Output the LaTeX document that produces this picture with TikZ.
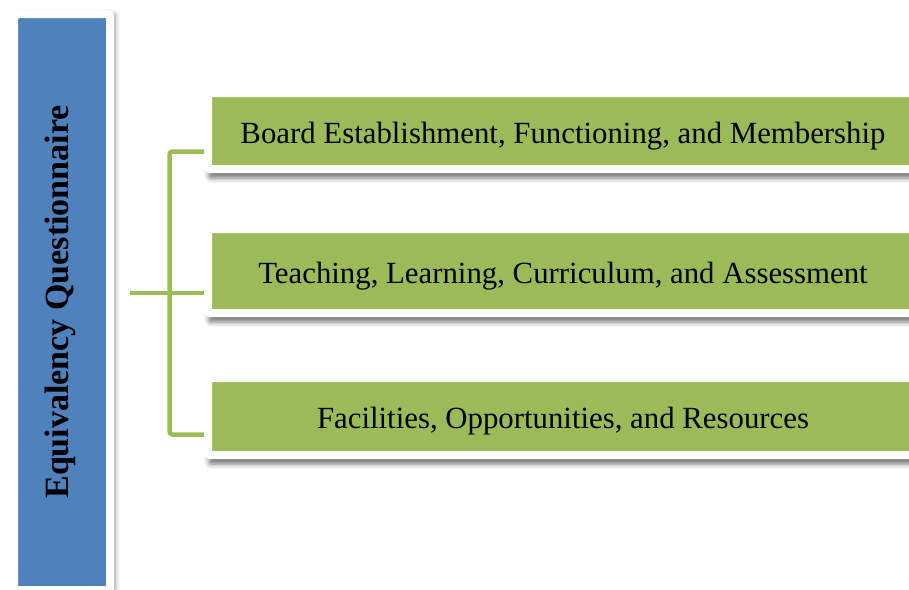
\documentclass[tikz,border=0pt]{standalone}
\usepackage{fontspec}
\setmainfont{Liberation Serif}
\usetikzlibrary{positioning,shadows.blur}

\definecolor{qblue}{HTML}{4F81BD}
\definecolor{qgreen}{HTML}{9BBB59}

\begin{document}
\begin{tikzpicture}[x=0.5pt,y=-0.5pt,
        topic/.style={fill=qgreen,draw=white,line width=4pt,rounded corners=1pt,
            minimum width=355pt,text height=12pt,text depth=0pt,
            font=\fontsize{15.4pt}{18pt}\selectfont,
            blur shadow={shadow xshift=0.5pt,shadow yshift=-4.5pt,
                shadow blur radius=2.5pt,shadow opacity=55}},
        title/.style={fill=qblue,draw=white,line width=4pt,rounded corners=1pt,
            rotate=90,minimum width=288pt,minimum height=48pt,
            text height=6pt,text depth=0pt,
            font=\fontsize{17pt}{20pt}\selectfont\bfseries,
            blur shadow={shadow xshift=2.5pt,shadow yshift=0pt,
                shadow blur radius=2.5pt,shadow opacity=45}},
        link/.style={draw=qgreen,line width=2.25pt}]

    \clip (0,0) rectangle (909,589);

    \node[title] (eq) at (62,302) {Equivalency Questionnaire};

    \node[topic,minimum height=38pt] (board) at (563,131) {Board Establishment, Functioning, and Membership};
    \node[topic,minimum height=42pt] (teach) [below=26pt of board] {Teaching, Learning, Curriculum, and Assessment};
    \node[topic,minimum height=38.5pt] (facil) [below=28.5pt of teach] {Facilities, Opportunities, and Resources};

    \coordinate (hub) at (130,293);
    \coordinate (spine) at (169.5,293);

    \draw[link,rounded corners=1.5pt] ([yshift=-10.25pt]board.west) -| (spine) |- ([yshift=-9pt]facil.west);
    \draw[link] (hub) -- (teach.west |- hub);

\end{tikzpicture}
\end{document}
